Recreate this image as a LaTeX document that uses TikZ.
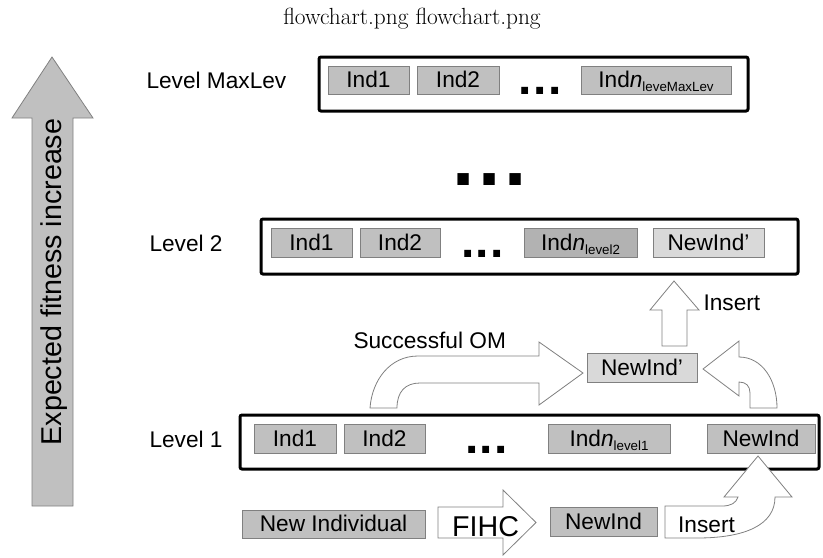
\documentclass[tikz,border=0pt]{standalone}
\usepackage{fontspec}
\newfontfamily\arialfont{Liberation Sans}
\newcommand{\lvsub}[1]{\raisebox{-3pt}{\fontsize{10}{11}\selectfont #1}}

\definecolor{indgray}{RGB}{192,192,192}
\definecolor{inddark}{RGB}{178,178,178}
\definecolor{indlight}{RGB}{217,217,217}
\definecolor{edgegray}{RGB}{128,128,128}

\tikzset{every picture/.style={line width=0.75pt}}
\tikzset{
  lbl/.style={font={\arialfont\fontsize{17}{20}\selectfont}, inner sep=0pt},
  indbox/.style={draw=edgegray, fill=indgray, line width=0.75pt},
  levelbox/.style={draw=black, line width=2.25pt, rounded corners=1.5pt},
  blockarrow/.style={draw=edgegray, fill=white, line width=0.6pt},
  dotsfont/.style={font={\arialfont\bfseries\fontsize{36}{36}\selectfont}, inner sep=0pt}
}

\begin{document}
\begin{tikzpicture}[x=0.75pt,y=0.75pt,yscale=-1,xscale=1]
\useasboundingbox (0,0) rectangle (823,557);

% Text Node
\draw (412,24) node [anchor=base, inner sep=0pt, font={\fontsize{17.5}{20}\selectfont}] (title) {flowchart.png flowchart.png};

%Shape: Up Arrow
\draw [draw=edgegray, fill=indgray, line width=0.6pt] (32,506) -- (32,118) -- (12,118) -- (52,57) -- (93,118) -- (73,118) -- (73,506) -- cycle ;
% Text Node
\draw (54,282) node [rotate=90, inner sep=0pt, font={\arialfont\fontsize{21.5}{24}\selectfont}] (fitness) {Expected fitness increase};

%Shape: Rectangle
\draw [levelbox] (319,57) rectangle (748,111) ;
%Shape: Rectangle
\draw [levelbox] (261,219) rectangle (798,274) ;
%Shape: Rectangle
\draw [levelbox] (240,415) rectangle (819,469) ;

% Text Node
\draw (146,88) node [lbl, anchor=base west] (lvmax) {Level MaxLev};
% Text Node
\draw (149,251) node [lbl, anchor=base west] (lvtwo) {Level 2};
% Text Node
\draw (149,447) node [lbl, anchor=base west] (lvone) {Level 1};

%Shape: Rectangle
\draw [indbox] (328,66) rectangle (409,94) ;
\draw (368.5,87.5) node [lbl, anchor=base] (maxA) {Ind1};
%Shape: Rectangle
\draw [indbox] (417,66) rectangle (499,94) ;
\draw (458,87.5) node [lbl, anchor=base] (maxB) {Ind2};
% Text Node
\draw (540,94) node [dotsfont, anchor=base] (maxdots) {.\hspace{1pt}.\hspace{1pt}.};
%Shape: Rectangle
\draw [indbox] (581,66) rectangle (731,94) ;
\draw (656,87.5) node [lbl, anchor=base] (maxN) {Ind\textit{n}\lvsub{leveMaxLev}};

% Text Node
\draw (489.5,185) node [anchor=base, inner sep=0pt, font={\arialfont\bfseries\fontsize{60}{60}\selectfont}] (middots) {.\hspace{3pt}.\hspace{3pt}.};

%Shape: Rectangle
\draw [indbox] (271,228) rectangle (352,257) ;
\draw (311.5,250.5) node [lbl, anchor=base] (twoA) {Ind1};
%Shape: Rectangle
\draw [indbox] (360,228) rectangle (440,257) ;
\draw (400,250.5) node [lbl, anchor=base] (twoB) {Ind2};
% Text Node
\draw (482.5,257) node [dotsfont, anchor=base] (twodots) {.\hspace{1pt}.\hspace{1pt}.};
%Shape: Rectangle
\draw [indbox, fill=inddark] (524,228) rectangle (637,257) ;
\draw (580.5,250.5) node [lbl, anchor=base] (twoN) {Ind\textit{n}\lvsub{level2}};
%Shape: Rectangle
\draw [indbox, fill=indlight] (653,228) rectangle (764,257) ;
\draw (708.5,250.5) node [lbl, anchor=base] (twoNew) {NewInd’};

%Shape: Up Arrow
\draw [blockarrow] (662,346) -- (662,310) -- (650,310) -- (674,281) -- (699,310) -- (687,310) -- (687,346) -- cycle ;
% Text Node
\draw (703,310) node [lbl, anchor=base west] (insup) {Insert};

%Shape: Curved Arrow
\draw [blockarrow] (370,408) .. controls (372,380) and (390,356) .. (418,356) -- (539,356) -- (539,342) -- (583,373) -- (539,405) -- (539,383) -- (420,383) .. controls (405,383) and (397,392) .. (397,408) -- cycle ;
% Text Node
\draw (353,348.5) node [lbl, anchor=base west] (succ) {Successful OM};

%Shape: Curved Arrow
\draw [blockarrow] (750,408) -- (750,393) .. controls (750,386) and (746,382) .. (739,382) -- (739,396) -- (703,369) -- (739,341) -- (739,357) .. controls (762,357) and (777,380) .. (777,408) -- cycle ;

%Shape: Rectangle
\draw [indbox, fill=indlight] (587,353) rectangle (697,382) ;
\draw (642,375.5) node [lbl, anchor=base] (midNew) {NewInd’};

%Shape: Rectangle
\draw [indbox] (254,424) rectangle (336,453) ;
\draw (295,446.5) node [lbl, anchor=base] (oneA) {Ind1};
%Shape: Rectangle
\draw [indbox] (344,424) rectangle (425,453) ;
\draw (384.5,446.5) node [lbl, anchor=base] (oneB) {Ind2};
% Text Node
\draw (486.5,453) node [dotsfont, anchor=base] (onedots) {.\hspace{1pt}.\hspace{1pt}.};
%Shape: Rectangle
\draw [indbox] (548,424) rectangle (670,453) ;
\draw (609,446.5) node [lbl, anchor=base] (oneN) {Ind\textit{n}\lvsub{level1}};
%Shape: Rectangle
\draw [indbox] (707,424) rectangle (815,453) ;
\draw (761,446.5) node [lbl, anchor=base] (oneNew) {NewInd};

%Shape: Curved Arrow
\draw [blockarrow] (665,506) -- (665,538) -- (697,538) .. controls (745,538) and (775,525) .. (775,497) -- (792,497) -- (758,456) -- (724,497) -- (738,497) .. controls (736,503) and (731,506) .. (722,506) -- cycle ;
% Text Node
\draw (706.5,532) node [lbl, anchor=base] (insbot) {Insert};

%Shape: Right Arrow
\draw [blockarrow] (438,507) -- (503,507) -- (503,490) -- (536,522.5) -- (503,555) -- (503,538) -- (438,538) -- cycle ;
% Text Node
\draw (485.5,536) node [anchor=base, inner sep=0pt, font={\arialfont\fontsize{21.5}{24}\selectfont}] (fihc) {FIHC};

%Shape: Rectangle
\draw [indbox] (242,510) rectangle (425,538) ;
\draw (333.5,531.5) node [lbl, anchor=base] (newindiv) {New Individual};
%Shape: Rectangle
\draw [indbox] (550,507) rectangle (657,536) ;
\draw (603.5,529) node [lbl, anchor=base] (botNew) {NewInd};

\end{tikzpicture}
\end{document}
